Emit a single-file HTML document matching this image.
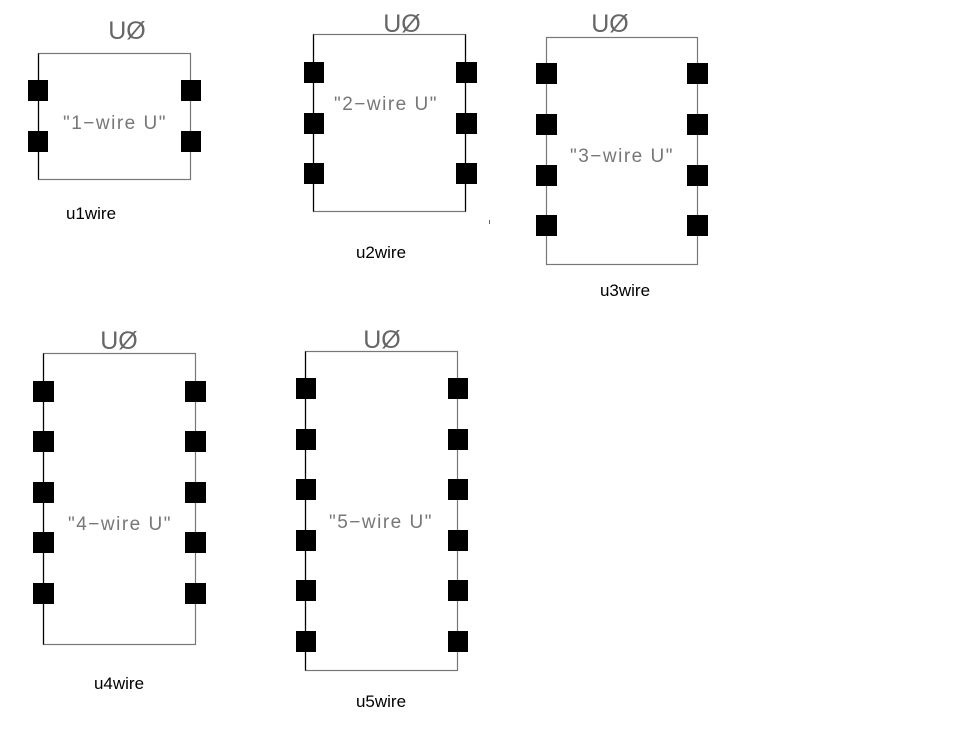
<!DOCTYPE html>
<html><head><style>
html,body{margin:0;padding:0;background:#fff;width:957px;height:742px;overflow:hidden}
svg{display:block}
.u{font-family:"Liberation Sans",sans-serif;font-size:25px;fill:#666;font-weight:normal;text-anchor:middle}
.i{font-family:"Liberation Sans",sans-serif;font-size:19px;fill:#777;text-anchor:middle;letter-spacing:1.5px}
.n{font-family:"Liberation Sans",sans-serif;font-size:17px;fill:#000;text-anchor:middle}
rect.b{fill:none;stroke:#777;stroke-width:1.2}
rect.p{fill:#000}
line{stroke:#000;stroke-width:1.2}
</style></head><body>
<svg width="957" height="742" xmlns="http://www.w3.org/2000/svg">
<!-- Box1 -->
<rect class="b" x="38.5" y="53.5" width="152" height="126"/>
<line x1="38.5" y1="53.5" x2="38.5" y2="179.5"/>
<rect class="p" x="28" y="80" width="20" height="21"/><rect class="p" x="28" y="131" width="20" height="21"/>
<rect class="p" x="181" y="80" width="20" height="21"/><rect class="p" x="181" y="131" width="20" height="21"/>
<text class="u" x="127" y="39">UØ</text>
<text class="i" x="115" y="129">"1−wire U"</text>
<text class="n" x="91" y="219">u1wire</text>
<!-- Box2 -->
<rect class="b" x="313.5" y="34.5" width="152" height="177"/>
<line x1="313.5" y1="34.5" x2="313.5" y2="211.5"/>
<line x1="465.5" y1="34.5" x2="465.5" y2="211.5"/>
<rect class="p" x="304" y="62" width="20" height="21"/><rect class="p" x="304" y="113" width="20" height="21"/><rect class="p" x="304" y="163" width="20" height="21"/>
<rect class="p" x="456" y="62" width="21" height="21"/><rect class="p" x="456" y="113" width="21" height="21"/><rect class="p" x="456" y="163" width="21" height="21"/>
<text class="u" x="402" y="32">UØ</text>
<text class="i" x="386" y="110">"2−wire U"</text>
<text class="n" x="381" y="258">u2wire</text>
<rect x="489" y="220" width="1" height="4" fill="#666"/>
<!-- Box3 -->
<rect class="b" x="546.5" y="37.5" width="151" height="227"/>
<rect class="p" x="536" y="63" width="21" height="21"/><rect class="p" x="536" y="114" width="21" height="21"/><rect class="p" x="536" y="165" width="21" height="21"/><rect class="p" x="536" y="215" width="21" height="21"/>
<rect class="p" x="687" y="63" width="21" height="21"/><rect class="p" x="687" y="114" width="21" height="21"/><rect class="p" x="687" y="165" width="21" height="21"/><rect class="p" x="687" y="215" width="21" height="21"/>
<text class="u" x="610" y="32">UØ</text>
<text class="i" x="622" y="162">"3−wire U"</text>
<text class="n" x="625" y="296">u3wire</text>
<!-- Box4 -->
<rect class="b" x="43.5" y="353.5" width="152" height="291"/>
<line x1="43.5" y1="353.5" x2="43.5" y2="644.5"/>
<rect class="p" x="33" y="381" width="21" height="21"/><rect class="p" x="33" y="431" width="21" height="21"/><rect class="p" x="33" y="482" width="21" height="21"/><rect class="p" x="33" y="532" width="21" height="21"/><rect class="p" x="33" y="583" width="21" height="21"/>
<rect class="p" x="185" y="381" width="21" height="21"/><rect class="p" x="185" y="431" width="21" height="21"/><rect class="p" x="185" y="482" width="21" height="21"/><rect class="p" x="185" y="532" width="21" height="21"/><rect class="p" x="185" y="583" width="21" height="21"/>
<text class="u" x="119" y="349">UØ</text>
<text class="i" x="120" y="530">"4−wire U"</text>
<text class="n" x="119" y="689">u4wire</text>
<!-- Box5 -->
<rect class="b" x="305.5" y="351.5" width="152" height="319"/>
<line x1="305.5" y1="351.5" x2="305.5" y2="670.5"/>
<rect class="p" x="296" y="378" width="20" height="21"/><rect class="p" x="296" y="429" width="20" height="21"/><rect class="p" x="296" y="479" width="20" height="21"/><rect class="p" x="296" y="530" width="20" height="21"/><rect class="p" x="296" y="580" width="20" height="21"/><rect class="p" x="296" y="631" width="20" height="21"/>
<rect class="p" x="448" y="378" width="20" height="21"/><rect class="p" x="448" y="429" width="20" height="21"/><rect class="p" x="448" y="479" width="20" height="21"/><rect class="p" x="448" y="530" width="20" height="21"/><rect class="p" x="448" y="580" width="20" height="21"/><rect class="p" x="448" y="631" width="20" height="21"/>
<text class="u" x="382" y="348">UØ</text>
<text class="i" x="381" y="528">"5−wire U"</text>
<text class="n" x="381" y="707">u5wire</text>
</svg>
</body></html>
